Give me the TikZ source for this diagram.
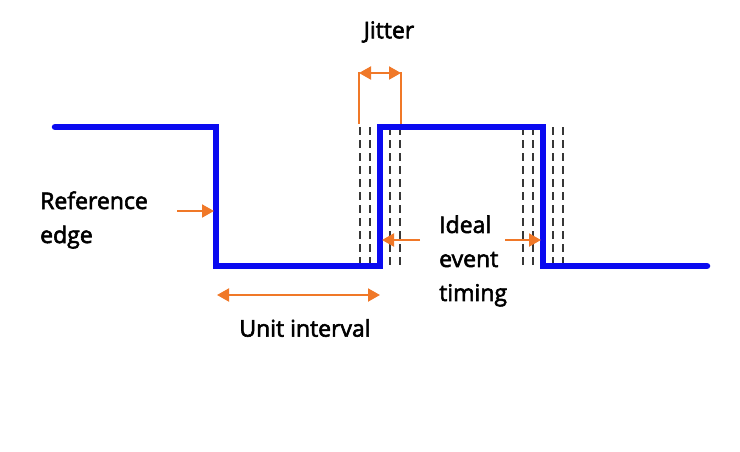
\documentclass[tikz,border=0pt]{standalone}
\usepackage{fontspec}
\setmainfont{Open Sans}[UprightFeatures={FakeBold=2.5}]
\usetikzlibrary{arrows.meta}
\definecolor{wave}{RGB}{10,10,240}
\definecolor{orng}{RGB}{240,120,40}
\definecolor{dash}{RGB}{55,55,55}
\tikzset{
  wavel/.style={draw=wave,line width=6.5pt,line join=miter,line cap=round},
  dashl/.style={draw=dash,line width=2.8pt,dash pattern=on 8pt off 5pt},
  orarrow/.style={draw=orng,line width=2pt,-{Triangle[length=12pt,width=13pt]}},
  orboth/.style={draw=orng,line width=2pt,{Triangle[length=12pt,width=13pt]}-{Triangle[length=12pt,width=13pt]}},
  orline/.style={draw=orng,line width=1.6pt},
  lbl/.style={font=\fontsize{23}{34}\selectfont,text=black,inner sep=0pt},
}
\begin{document}
\begin{tikzpicture}[x=1pt,y=-1pt]
\useasboundingbox (0,0) rectangle (740,451);
% waveform corners
\coordinate (w0) at (55,127);
\coordinate (w1) at (216,127);
\coordinate (w2) at (216,266);
\coordinate (w3) at (380,266);
\coordinate (w4) at (380,127);
\coordinate (w5) at (543,127);
\coordinate (w6) at (543,266);
\coordinate (w7) at (707,266);
% dashed jitter edges
\foreach \x/\n in {360/a,370/b,390/c,400/d,523/e,533/f,553/g,563/h}{
  \coordinate (d\n t) at (\x,127);
  \coordinate (d\n b) at (\x,268);
  \draw[dashl] (d\n t) -- (d\n b);
}
\draw[wavel] (w0) -- (w1) -- (w2) -- (w3) -- (w4) -- (w5) -- (w6) -- (w7);
% Jitter
\coordinate (j1b) at (359,124);
\coordinate (j1t) at (359,72);
\coordinate (j2b) at (401,124);
\coordinate (j2t) at (401,72);
\draw[orline] (j1b) -- (j1t);
\draw[orline] (j2b) -- (j2t);
\coordinate (ja) at (359,73);
\coordinate (jb) at (401,73);
\draw[orboth] (ja) -- (jb);
\node[lbl] (jit) at (389,32) {Jitter};
% Reference edge
\node[lbl,align=left,anchor=west] (ref) at (40,220) {Reference\\edge};
\coordinate (rs) at (177,211);
\coordinate (re) at (214,211);
\draw[orarrow] (rs) -- (re);
% Ideal event timing
\node[lbl,align=left,anchor=west] (ide) at (439,261) {Ideal\\event\\timing};
\coordinate (is) at (420,240);
\coordinate (ie) at (382,240);
\draw[orarrow] (is) -- (ie);
\coordinate (ks) at (505,240);
\coordinate (ke) at (541,240);
\draw[orarrow] (ks) -- (ke);
% Unit interval
\coordinate (ua) at (217,295);
\coordinate (ub) at (380,295);
\draw[orboth] (ua) -- (ub);
\node[lbl] (ui) at (305,328) {Unit interval};
\end{tikzpicture}
\end{document}
